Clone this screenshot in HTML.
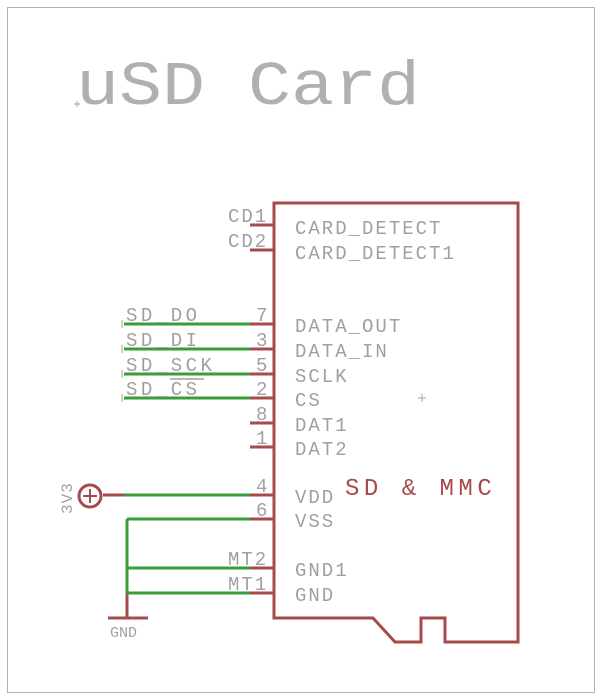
<!DOCTYPE html>
<html><head><meta charset="utf-8"><style>html,body{margin:0;padding:0;background:#fff}svg{display:block}</style></head><body>
<svg width="601" height="700" viewBox="0 0 601 700" xmlns="http://www.w3.org/2000/svg" font-family="Liberation Mono, monospace">
<rect x="7.5" y="7.5" width="587" height="685" fill="none" stroke="#b0b0b0" stroke-width="1"/>
<text x="76" y="104" font-size="62" fill="#b0b0b0" textLength="344" lengthAdjust="spacingAndGlyphs">uSD Card</text>
<path d="M74 104h6M77 101v6" stroke="#a0a0a0" stroke-width="1"/>
<g stroke="#a64a4a" stroke-width="3" fill="none">
<path d="M274 203H518V642H445V618H421V642H395L373 618H274Z"/>
<path d="M250 225h24M250 250h24M250 324h24M250 349h24M250 374h24M250 398h24M250 423h24M250 447h24M250 495h24M250 519h24M250 568h24M250 593h24"/>
<path d="M103 495h21"/>
<circle cx="90" cy="496" r="11" stroke-width="3"/>
<path d="M83 496h14M90 489v14" stroke-width="2"/>
<path d="M108 618h40M127 593v25"/>
</g>
<g stroke="#3a9c3a" stroke-width="3" fill="none">
<path d="M124 324h126M124 349h126M124 374h126M124 398h126M124 495h126M127 519h123M127 568h123M127 593h123M127 519v74"/>
</g>
<g stroke="#a0a0a0" stroke-width="1"><path d="M122 320v8M122 345v8M122 370v8M122 394v8M418 398h8M422 394v8"/></g>
<g fill="#a0a0a0" font-size="19" letter-spacing="2">
<text x="228" y="222">CD1</text><text x="228" y="247">CD2</text>
<text x="256" y="321">7</text><text x="256" y="346">3</text><text x="256" y="371">5</text><text x="256" y="395">2</text><text x="256" y="420">8</text><text x="256" y="444">1</text><text x="256" y="492">4</text><text x="256" y="516">6</text>
<text x="228" y="565">MT2</text><text x="228" y="590">MT1</text>
<text x="295" y="234">CARD_DETECT</text><text x="295" y="259">CARD_DETECT1</text>
<text x="295" y="332">DATA_OUT</text><text x="295" y="357">DATA_IN</text><text x="295" y="382">SCLK</text><text x="295" y="406">CS</text><text x="295" y="431">DAT1</text><text x="295" y="455">DAT2</text><text x="295" y="503">VDD</text><text x="295" y="527">VSS</text><text x="295" y="576">GND1</text><text x="295" y="601">GND</text>
<g letter-spacing="3.5"><text x="126" y="321">SD_DO</text><text x="126" y="346">SD_DI</text><text x="126" y="371">SD_SCK</text><text x="126" y="395">SD_CS</text></g>
<text x="110" y="637" font-size="15" letter-spacing="0">GND</text>
<text transform="translate(72,514) rotate(-90)" font-size="16" letter-spacing="1">3V3</text>
</g>
<path d="M170 379h34" stroke="#a0a0a0" stroke-width="1.5"/>
<text x="345" y="495" font-size="24" letter-spacing="4.5" fill="#a64a4a">SD &amp; MMC</text>
</svg>
</body></html>
